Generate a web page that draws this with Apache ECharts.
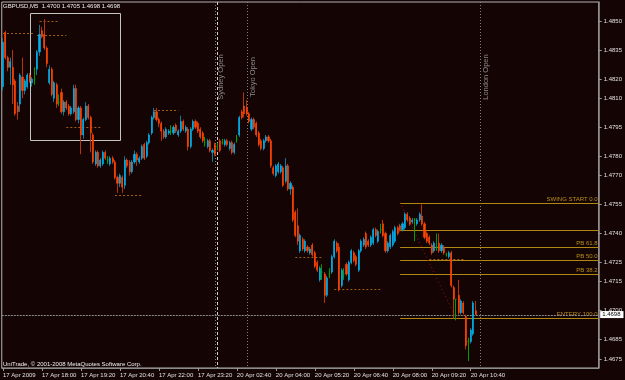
<!DOCTYPE html>
<html><head><meta charset="utf-8">
<script src="https://cdn.jsdelivr.net/npm/echarts@6/dist/echarts.min.js"></script>
<style>html,body{margin:0;padding:0;background:#150404}#c{width:625px;height:380px}</style>
</head><body><div id="c"></div>
<script>
const symbolName = 'GBPUSD,M5';
const copyrightText = 'UniTrade, \u00a9 2001-2008 MetaQuotes Software Corp.';
const tickLabels = ['17 Apr 2009','17 Apr 18:00','17 Apr 19:20','17 Apr 20:40','17 Apr 22:00','17 Apr 23:20',
  '20 Apr 02:40','20 Apr 04:00','20 Apr 05:20','20 Apr 06:40','20 Apr 08:00','20 Apr 09:20','20 Apr 10:40'];
const tickEvery = 16;
const fridayDay = '17 Apr', fridayStart = '16:40', fridayBars = 88;
const mondayDay = '20 Apr', mondayStart = '02:00';
const totalSlots = 245;

const opens = [
1.4816,1.4844,1.4831,1.4826,1.4826,1.4819,1.4806,1.4807,1.4821,1.4814,
1.4816,1.4822,1.4818,1.4820,1.4825,1.4834,1.4845,1.4843,1.4836,1.4818,
1.4825,1.4810,1.4817,1.4808,1.4813,1.4803,1.4808,1.4806,1.4802,1.4803,
1.4815,1.4799,1.4805,1.4791,1.4799,1.4806,1.4800,1.4791,1.4776,1.4782,
1.4775,1.4776,1.4782,1.4778,1.4776,1.4779,1.4777,1.4769,1.4766,1.4769,
1.4765,1.4778,1.4777,1.4772,1.4777,1.4781,1.4777,1.4779,1.4786,1.4780,
1.4787,1.4792,1.4800,1.4803,1.4799,1.4797,1.4793,1.4790,1.4792,1.4793,
1.4792,1.4796,1.4791,1.4793,1.4798,1.4793,1.4794,1.4785,1.4794,1.4798,
1.4797,1.4794,1.4792,1.4787,1.4785,1.4788,1.4782,1.4786,1.4785,1.4788,
1.4787,1.4786,1.4788,1.4784,1.4787,1.4782,1.4789,1.4791,1.4803,1.4806,
1.4805,1.4802,1.4794,1.4799,1.4797,1.4792,1.4788,1.4784,1.4788,1.4790,
1.4788,1.4774,1.4770,1.4772,1.4772,1.4774,1.4767,1.4775,1.4763,1.4764,
1.4751,1.4744,1.4731,1.4737,1.4731,1.4733,1.4730,1.4734,1.4730,1.4725,
1.4716,1.4720,1.4719,1.4708,1.4719,1.4720,1.4728,1.4735,1.4733,1.4713,
1.4719,1.4724,1.4716,1.4725,1.4730,1.4728,1.4721,1.4731,1.4734,1.4740,
1.4736,1.4734,1.4735,1.4742,1.4736,1.4742,1.4745,1.4740,1.4731,1.4733,
1.4734,1.4736,1.4743,1.4744,1.4742,1.4743,1.4750,1.4748,1.4746,1.4747,
1.4745,1.4747,1.4749,1.4745,1.4740,1.4738,1.4734,1.4731,1.4733,1.4735,
1.4731,1.4733,1.4729,1.4728,1.4730,1.4712,1.4706,1.4708,1.4699,1.4704,
1.4697,1.4684,1.4684,1.4688,1.4700];
const highs = [
1.4841,1.4845,1.4832,1.4831,1.4835,1.4820,1.4808,1.4823,1.4831,1.4820,
1.4823,1.4823,1.4821,1.4826,1.4835,1.4848,1.4847,1.4851,1.4837,1.4827,
1.4826,1.4819,1.4818,1.4812,1.4815,1.4809,1.4809,1.4807,1.4806,1.4817,
1.4817,1.4806,1.4806,1.4800,1.4808,1.4807,1.4801,1.4792,1.4783,1.4783,
1.4779,1.4783,1.4783,1.4780,1.4780,1.4780,1.4778,1.4770,1.4771,1.4770,
1.4780,1.4779,1.4778,1.4778,1.4783,1.4782,1.4780,1.4786,1.4787,1.4788,
1.4792,1.4801,1.4805,1.4805,1.4800,1.4798,1.4794,1.4795,1.4794,1.4796,
1.4796,1.4797,1.4794,1.4801,1.4799,1.4796,1.4795,1.4795,1.4799,1.4799,
1.4798,1.4795,1.4793,1.4790,1.4789,1.4789,1.4784,1.4787,1.4787,1.4789,
1.4789,1.4789,1.4789,1.4788,1.4788,1.4787,1.4791,1.4801,1.4804,1.4813,
1.4809,1.4803,1.4800,1.4800,1.4798,1.4793,1.4789,1.4789,1.4791,1.4791,
1.4789,1.4775,1.4776,1.4777,1.4776,1.4775,1.4779,1.4776,1.4767,1.4765,
1.4752,1.4753,1.4740,1.4738,1.4737,1.4734,1.4733,1.4735,1.4731,1.4726,
1.4723,1.4724,1.4720,1.4718,1.4722,1.4729,1.4737,1.4736,1.4735,1.4722,
1.4722,1.4725,1.4726,1.4732,1.4731,1.4729,1.4732,1.4737,1.4738,1.4741,
1.4737,1.4739,1.4743,1.4743,1.4742,1.4745,1.4747,1.4741,1.4736,1.4740,
1.4742,1.4744,1.4744,1.4745,1.4746,1.4751,1.4751,1.4749,1.4748,1.4748,
1.4748,1.4751,1.4755,1.4746,1.4741,1.4739,1.4735,1.4736,1.4740,1.4740,
1.4735,1.4734,1.4730,1.4731,1.4731,1.4713,1.4706,1.4716,1.4706,1.4705,
1.4698,1.4686,1.4691,1.4705,1.4705];
const lows = [
1.4814,1.4830,1.4824,1.4817,1.4807,1.4801,1.4799,1.4803,1.4810,1.4812,
1.4815,1.4818,1.4816,1.4817,1.4822,1.4832,1.4841,1.4835,1.4826,1.4817,
1.4811,1.4808,1.4805,1.4806,1.4802,1.4801,1.4804,1.4801,1.4801,1.4802,
1.4798,1.4797,1.4781,1.4789,1.4798,1.4799,1.4782,1.4776,1.4775,1.4774,
1.4774,1.4775,1.4778,1.4776,1.4775,1.4776,1.4768,1.4761,1.4764,1.4761,
1.4763,1.4774,1.4770,1.4771,1.4776,1.4775,1.4776,1.4778,1.4778,1.4779,
1.4786,1.4791,1.4799,1.4798,1.4795,1.4788,1.4789,1.4789,1.4791,1.4791,
1.4791,1.4792,1.4790,1.4792,1.4793,1.4792,1.4783,1.4784,1.4793,1.4794,
1.4792,1.4789,1.4787,1.4785,1.4784,1.4782,1.4777,1.4780,1.4783,1.4782,
1.4786,1.4785,1.4785,1.4783,1.4781,1.4781,1.4787,1.4790,1.4799,1.4800,
1.4801,1.4797,1.4793,1.4794,1.4790,1.4785,1.4783,1.4783,1.4787,1.4787,
1.4774,1.4770,1.4769,1.4771,1.4771,1.4764,1.4766,1.4762,1.4760,1.4746,
1.4738,1.4734,1.4730,1.4731,1.4730,1.4730,1.4729,1.4728,1.4722,1.4720,
1.4715,1.4716,1.4704,1.4707,1.4717,1.4719,1.4727,1.4730,1.4710,1.4712,
1.4716,1.4718,1.4715,1.4724,1.4725,1.4723,1.4720,1.4730,1.4733,1.4732,
1.4733,1.4733,1.4734,1.4738,1.4735,1.4740,1.4738,1.4730,1.4730,1.4732,
1.4733,1.4735,1.4739,1.4741,1.4741,1.4742,1.4746,1.4744,1.4745,1.4736,
1.4744,1.4746,1.4744,1.4737,1.4735,1.4734,1.4729,1.4730,1.4731,1.4730,
1.4730,1.4729,1.4728,1.4727,1.4712,1.4696,1.4695,1.4698,1.4698,1.4698,
1.4680,1.4674,1.4683,1.4687,1.4698];
const closes = [
1.4839,1.4831,1.4826,1.4829,1.4817,1.4802,1.4803,1.4822,1.4814,1.4819,
1.4822,1.4819,1.4820,1.4820,1.4834,1.4843,1.4842,1.4836,1.4828,1.4825,
1.4812,1.4818,1.4807,1.4808,1.4803,1.4808,1.4805,1.4802,1.4805,1.4815,
1.4799,1.4805,1.4791,1.4799,1.4806,1.4800,1.4792,1.4777,1.4782,1.4775,
1.4778,1.4782,1.4779,1.4778,1.4779,1.4777,1.4769,1.4766,1.4770,1.4764,
1.4778,1.4775,1.4772,1.4777,1.4781,1.4778,1.4779,1.4785,1.4779,1.4787,
1.4791,1.4800,1.4803,1.4799,1.4797,1.4793,1.4790,1.4794,1.4793,1.4793,
1.4795,1.4793,1.4793,1.4798,1.4794,1.4795,1.4785,1.4794,1.4798,1.4795,
1.4793,1.4790,1.4788,1.4787,1.4788,1.4783,1.4783,1.4781,1.4785,1.4783,
1.4787,1.4788,1.4786,1.4787,1.4782,1.4786,1.4789,1.4800,1.4800,1.4802,
1.4802,1.4798,1.4799,1.4795,1.4791,1.4786,1.4784,1.4788,1.4790,1.4788,
1.4775,1.4771,1.4775,1.4776,1.4775,1.4765,1.4775,1.4763,1.4766,1.4747,
1.4739,1.4736,1.4739,1.4732,1.4736,1.4731,1.4732,1.4729,1.4723,1.4721,
1.4722,1.4720,1.4708,1.4717,1.4719,1.4728,1.4736,1.4731,1.4711,1.4721,
1.4719,1.4719,1.4725,1.4731,1.4726,1.4724,1.4731,1.4736,1.4737,1.4733,
1.4734,1.4738,1.4742,1.4739,1.4741,1.4742,1.4739,1.4731,1.4735,1.4739,
1.4741,1.4743,1.4740,1.4742,1.4745,1.4750,1.4747,1.4745,1.4747,1.4747,
1.4747,1.4750,1.4745,1.4738,1.4736,1.4735,1.4730,1.4735,1.4733,1.4731,
1.4734,1.4730,1.4729,1.4730,1.4713,1.4706,1.4706,1.4699,1.4705,1.4699,
1.4682,1.4684,1.4690,1.4704,1.4698];

const yTickValues = [1.4850,1.4835,1.4820,1.4810,1.4795,1.4780,1.4770,1.4755,1.4740,1.4725,1.4715,1.4700,1.4685,1.4675];
const yMin = 1.467034, yMax = 1.485984;

const sessionBars = [87, 100, 196];
const sessionNames = ['Sydney Open', 'Tokyo Open', 'London Open'];
const sessionTextPrice = 1.4821;
const separatorBars = [88];
const swingMarks = [[0,13,1.4844],[15,23,1.4850],[14,26,1.4843],[26,40,1.4795],[46,57,1.4760],
  [62,72,1.4804],[120,131,1.4728],[136,155,1.4711],[175,189,1.4727]];
const fibStartBar = 163;
const fibLevels = [1.4756, 1.4742, 1.4733, 1.4726, 1.4719, 1.4696];
const fibNames = ['SWING START 0.0', '', 'PB 61.8', 'PB 50.0', 'PB 38.2', 'ENTERY 100.0'];
const fibTrend = [[163, 1.4756, 186, 1.4696]];
const boxes = [[11, 1.4854, 48, 1.4788]];
const bidPrice = 1.4698;

// ---- build ----
const FONT = 'Liberation Sans';
const toMin = s => { const [h, m] = s.split(':').map(Number); return h * 60 + m; };
const pad = n => String(n).padStart(2, '0');
const categories = [];
for (let i = 0; i < totalSlots; i++) {
  let day, t;
  if (i < fridayBars) { day = fridayDay; t = toMin(fridayStart) + 5 * i; }
  else { day = mondayDay; t = toMin(mondayStart) + 5 * (i - fridayBars); }
  categories.push(day + ' ' + pad(Math.floor(t / 60) % 24) + ':' + pad(t % 60));
}
const UP = '#00b2ee', DOWN = '#ff4500', DOJI = '#00a000';
const UPW = '#0b79a0', DOWNW = '#b8320c';
const wickData = [], bodyData = [];
for (let i = 0; i < opens.length; i++) {
  const o = opens[i], c = closes[i], h = highs[i], l = lows[i];
  const doji = o === c;
  const w = { value: [o, c, l, h] };
  const b = { value: [o, c, Math.min(o, c), Math.max(o, c)] };
  if (doji) {
    w.itemStyle = { color: DOJI, color0: DOJI, borderColor: DOJI, borderColor0: DOJI };
    b.itemStyle = { color: DOJI, color0: DOJI, borderColor: DOJI, borderColor0: DOJI };
  }
  wickData.push(w); bodyData.push(b);
}
const f4 = v => v.toFixed(4);
const n = opens.length - 1;
const headerText = symbolName + '  ' + [opens[n], highs[n], lows[n], closes[n]].map(f4).join(' ');
const tickShown = (i) => i % tickEvery === 0 && i / tickEvery < tickLabels.length;
const snap = v => Math.round(v) + 0.5;

const chart = echarts.init(document.getElementById('c'), null, { renderer: 'canvas' });
chart.setOption({
  animation: false,
  backgroundColor: '#150404',
  textStyle: { fontFamily: FONT },
  title: [
    { text: headerText, left: 3, top: 3, padding: 0,
      textStyle: { color: '#f0f0f0', fontSize: 6, fontWeight: 'normal', fontFamily: FONT } },
    { text: copyrightText, left: 3, top: 361, padding: 0,
      textStyle: { color: '#f0f0f0', fontSize: 6, fontWeight: 'normal', fontFamily: FONT } }
  ],
  grid: { left: 0.5, right: 23.1, top: 2, bottom: 12, show: true, borderColor: '#b4b4b4', borderWidth: 1 },
  xAxis: {
    type: 'category', data: categories, boundaryGap: true,
    axisLine: { lineStyle: { color: '#8c8c8c' } },
    axisTick: { show: true, alignWithLabel: true, interval: tickShown, length: 3, lineStyle: { color: '#9a9a9a' } },
    axisLabel: { interval: tickShown, formatter: (v, i) => tickLabels[i / tickEvery] || '',
      align: 'left', color: '#e0e0e0', fontSize: 6, margin: 4, fontFamily: FONT },
    splitLine: { show: false }
  },
  yAxis: {
    type: 'value', position: 'right', min: yMin, max: yMax, scale: true,
    axisLine: { show: true, lineStyle: { color: '#8c8c8c', width: 1.5 } },
    axisTick: { show: true, customValues: yTickValues, length: 3, lineStyle: { color: '#9a9a9a' } },
    axisLabel: { customValues: yTickValues, formatter: v => f4(v), color: '#e0e0e0', fontSize: 6, margin: 5, fontFamily: FONT },
    splitLine: { show: false }
  },
  series: [
    { type: 'custom', name: 'box', data: boxes, encode: { x: 0, y: 1 }, z: 1,
      renderItem: (p, api) => {
        const a = api.coord([api.value(0), api.value(1)]);
        const b = api.coord([api.value(2), api.value(3)]);
        return { type: 'rect', shape: { x: snap(a[0]), y: snap(a[1]), width: Math.round(b[0] - a[0]), height: Math.round(b[1] - a[1]) },
          style: { fill: null, stroke: '#c4c4c4', lineWidth: 1 } };
      } },
    { type: 'custom', name: 'sessions', data: sessionBars.map(b => [b, sessionTextPrice]), encode: { x: 0, y: 1 }, z: 1,
      renderItem: (p, api) => {
        const cs = p.coordSys;
        const pt = api.coord([api.value(0), api.value(1)]);
        const x = snap(pt[0]);
        return { type: 'group', children: [
          { type: 'line', shape: { x1: x, y1: cs.y, x2: x, y2: cs.y + cs.height }, style: { stroke: '#808080', lineWidth: 1, lineDash: [1, 2] } },
          { type: 'text', x: x + 5, y: pt[1], rotation: Math.PI / 2,
            style: { text: sessionNames[p.dataIndex], fill: '#8c8c8c', fontSize: 7.5, fontFamily: FONT, align: 'center', verticalAlign: 'middle' } }
        ] };
      } },
    { type: 'custom', name: 'separator', data: separatorBars.map(b => [b, yMin]), encode: { x: 0, y: 1 }, z: 1,
      renderItem: (p, api) => {
        const cs = p.coordSys;
        const x = snap(api.coord([api.value(0), api.value(1)])[0]);
        return { type: 'line', shape: { x1: x, y1: cs.y, x2: x, y2: cs.y + cs.height }, style: { stroke: '#d0d0d0', lineWidth: 1, lineDash: [3, 2] } };
      } },
    { type: 'custom', name: 'swings', data: swingMarks, encode: { x: 0, y: 2 }, z: 1,
      renderItem: (p, api) => {
        const a = api.coord([api.value(0), api.value(2)]);
        const b = api.coord([api.value(1), api.value(2)]);
        const y = snap(a[1]);
        return { type: 'line', shape: { x1: a[0], y1: y, x2: b[0], y2: y }, style: { stroke: '#a0601c', lineWidth: 1, lineDash: [2, 2] } };
      } },
    { type: 'custom', name: 'fib', data: fibLevels.map(v => [fibStartBar, v]), encode: { x: 0, y: 1 }, z: 1,
      renderItem: (p, api) => {
        const cs = p.coordSys;
        const a = api.coord([api.value(0), api.value(1)]);
        const y = snap(a[1]);
        const right = cs.x + cs.width;
        return { type: 'group', children: [
          { type: 'line', shape: { x1: a[0], y1: y, x2: right, y2: y }, style: { stroke: '#b08714', lineWidth: 1 } },
          { type: 'text', x: right - 1, y: y - 1.5,
            style: { text: fibNames[p.dataIndex], fill: '#b8901c', fontSize: 6, fontFamily: FONT, align: 'right', verticalAlign: 'bottom' } }
        ] };
      } },
    { type: 'custom', name: 'fibTrend', data: fibTrend, encode: { x: 0, y: 1 }, z: 1,
      renderItem: (p, api) => {
        const a = api.coord([api.value(0), api.value(1)]);
        const b = api.coord([api.value(2), api.value(3)]);
        return { type: 'line', shape: { x1: a[0], y1: a[1], x2: b[0], y2: b[1] }, style: { stroke: '#a01212', lineWidth: 1, lineDash: [1, 3] } };
      } },
    { type: 'custom', name: 'bid', data: [[0, bidPrice]], encode: { x: 0, y: 1 }, z: 1,
      renderItem: (p, api) => {
        const cs = p.coordSys;
        const y = snap(api.coord([api.value(0), api.value(1)])[1]);
        return { type: 'group', children: [
          { type: 'line', shape: { x1: cs.x, y1: y, x2: cs.x + cs.width, y2: y }, style: { stroke: '#8c8c8c', lineWidth: 1, lineDash: [2, 1] } }
        ] };
      } },
    { type: 'candlestick', name: 'wicks', data: wickData, barWidth: 1, z: 3,
      itemStyle: { color: UPW, color0: DOWNW, borderColor: UPW, borderColor0: DOWNW, borderWidth: 1 } },
    { type: 'candlestick', name: 'bodies', data: bodyData, barWidth: 1.6, z: 4,
      itemStyle: { color: UP, color0: DOWN, borderColor: UP, borderColor0: DOWN, borderWidth: 0.6 } },
    { type: 'custom', name: 'bidLabel', data: [[0, bidPrice]], encode: { x: 0, y: 1 }, z: 10,
      renderItem: (p, api) => {
        const cs = p.coordSys;
        const y = api.coord([api.value(0), api.value(1)])[1];
        return { type: 'text', x: cs.x + cs.width + 1.5, y: y,
          style: { text: f4(api.value(1)), fill: '#000', backgroundColor: '#ffffff', padding: [1, 3, 0, 2], fontSize: 6, fontFamily: FONT, align: 'left', verticalAlign: 'middle' } };
      } }
  ]
});
</script></body></html>
